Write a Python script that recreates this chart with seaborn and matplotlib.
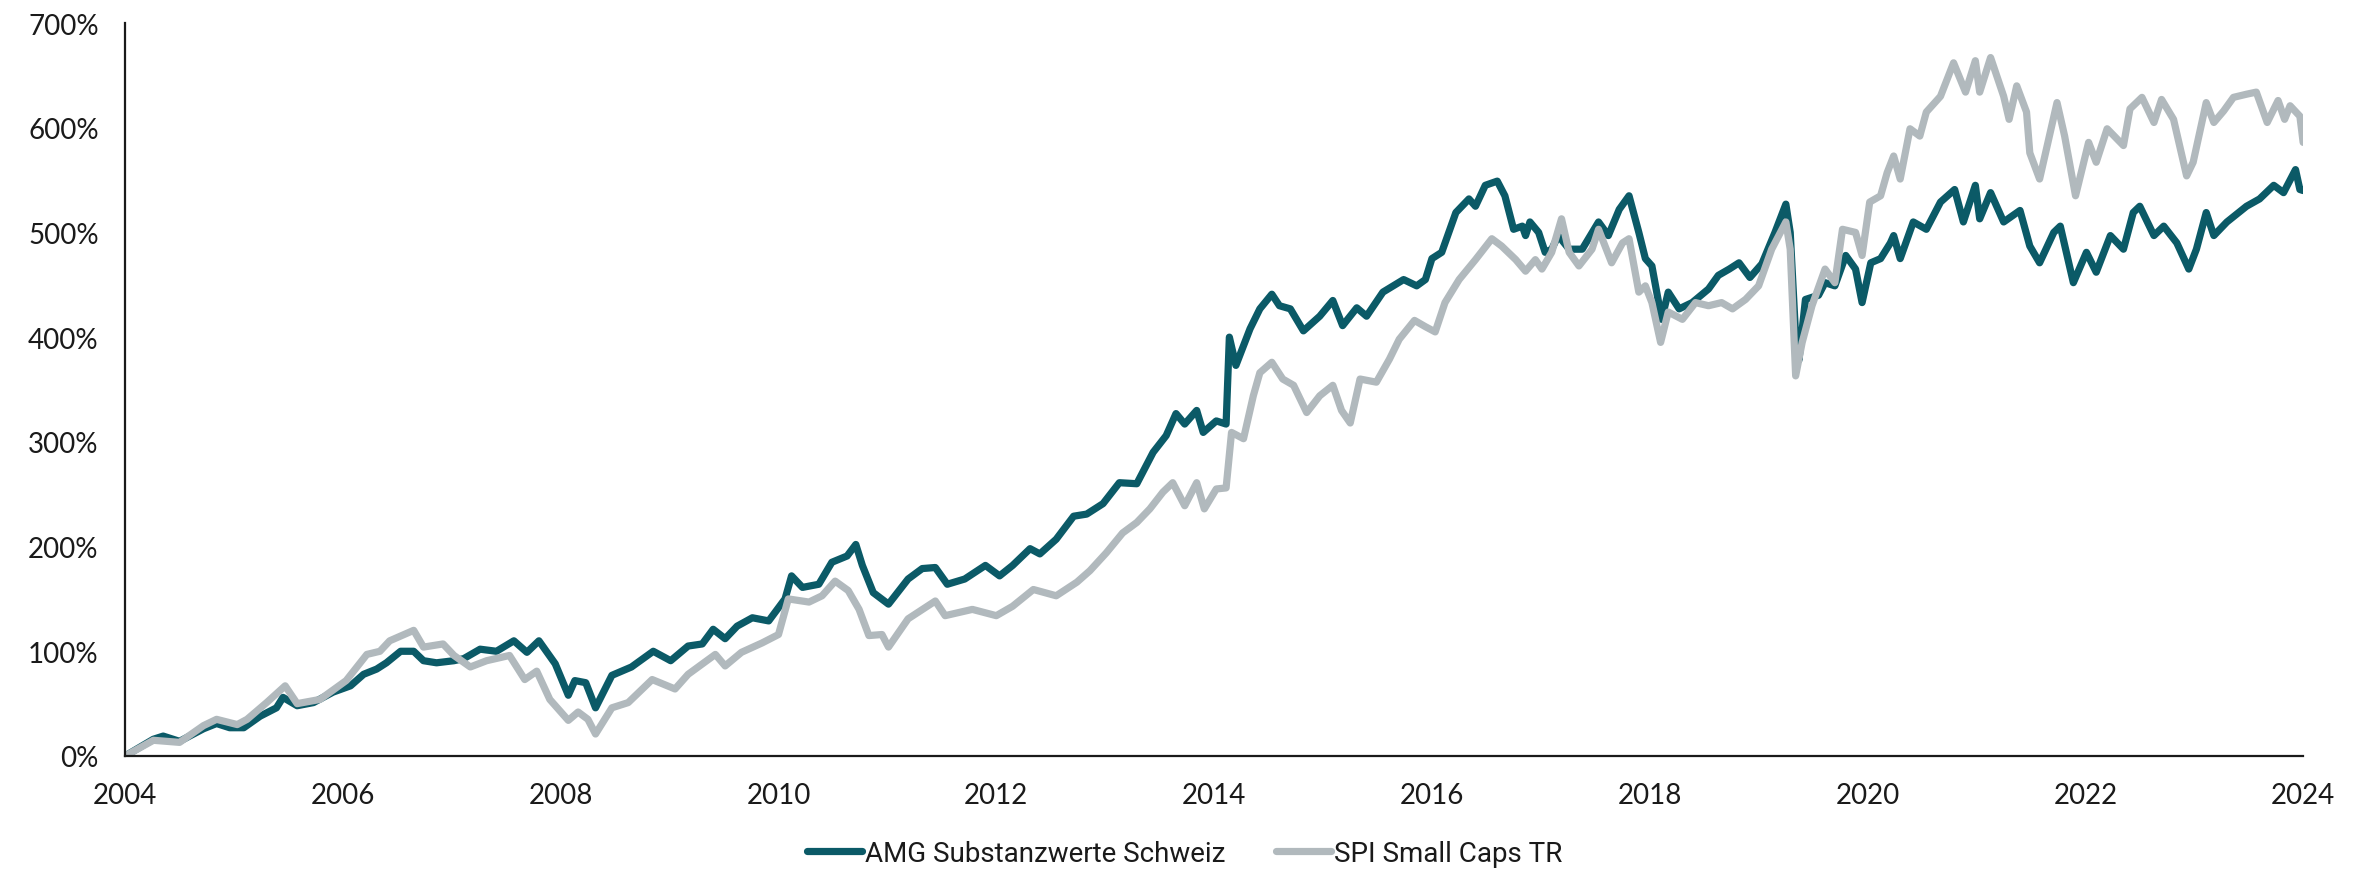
import pandas as pd
import numpy as np
import matplotlib
matplotlib.use("Agg")
import matplotlib.pyplot as plt
from matplotlib.ticker import FuncFormatter
import seaborn as sns

# ── Data (cumulative performance in %) ────────────────────────────────────────
AMG_LABEL = "AMG Substanzwerte Schweiz"
SPI_LABEL = "SPI Small Caps TR"

amg_years = [
    2004.00, 2004.26, 2004.35, 2004.50, 2004.72, 2004.84, 2004.96, 2005.09, 2005.24, 2005.39,
    2005.45, 2005.58, 2005.73, 2005.91, 2006.07, 2006.19, 2006.31, 2006.40, 2006.53, 2006.65,
    2006.74, 2006.86, 2007.02, 2007.11, 2007.26, 2007.41, 2007.57, 2007.69, 2007.80, 2007.95,
    2008.07, 2008.13, 2008.23, 2008.32, 2008.47, 2008.65, 2008.85, 2009.01, 2009.17, 2009.30,
    2009.40, 2009.51, 2009.62, 2009.76, 2009.91, 2010.06, 2010.12, 2010.22, 2010.37, 2010.49,
    2010.63, 2010.71, 2010.77, 2010.87, 2011.01, 2011.19, 2011.32, 2011.44, 2011.55, 2011.71,
    2011.90, 2012.03, 2012.15, 2012.31, 2012.40, 2012.55, 2012.71, 2012.83, 2012.98, 2013.13,
    2013.29, 2013.44, 2013.56, 2013.65, 2013.73, 2013.84, 2013.90, 2014.02, 2014.11, 2014.14,
    2014.20, 2014.33, 2014.42, 2014.53, 2014.60, 2014.70, 2014.82, 2014.97, 2015.09, 2015.18,
    2015.31, 2015.40, 2015.55, 2015.74, 2015.86, 2015.94, 2016.00, 2016.09, 2016.22, 2016.34,
    2016.40, 2016.49, 2016.60, 2016.67, 2016.75, 2016.83, 2016.86, 2016.90, 2016.98, 2017.04,
    2017.10, 2017.16, 2017.26, 2017.38, 2017.53, 2017.62, 2017.72, 2017.81, 2017.90, 2017.96,
    2018.02, 2018.11, 2018.17, 2018.27, 2018.39, 2018.54, 2018.63, 2018.73, 2018.82, 2018.92,
    2019.03, 2019.15, 2019.25, 2019.29, 2019.34, 2019.37, 2019.43, 2019.55, 2019.61, 2019.70,
    2019.80, 2019.89, 2019.95, 2020.03, 2020.12, 2020.21, 2020.24, 2020.30, 2020.42, 2020.54,
    2020.67, 2020.80, 2020.88, 2020.99, 2021.03, 2021.13, 2021.25, 2021.40, 2021.49, 2021.58,
    2021.71, 2021.77, 2021.89, 2022.01, 2022.10, 2022.23, 2022.35, 2022.44, 2022.50, 2022.63,
    2022.72, 2022.84, 2022.95, 2023.02, 2023.11, 2023.18, 2023.30, 2023.48, 2023.60, 2023.73,
    2023.82, 2023.93, 2023.97, 2024.00,
]
amg_values = [
    0, 16, 19, 14, 26, 31, 27, 27, 38, 46,
    56, 48, 51, 61, 67, 78, 83, 89, 100, 100,
    91, 89, 91, 93, 102, 100, 110, 99, 110, 88,
    58, 72, 70, 46, 77, 85, 100, 91, 105, 107,
    121, 112, 124, 132, 129, 150, 172, 161, 164, 185,
    191, 202, 182, 156, 145, 169, 179, 180, 164, 169,
    182, 172, 182, 198, 193, 207, 229, 231, 241, 261,
    260, 290, 306, 327, 317, 330, 309, 320, 317, 400,
    373, 408, 427, 441, 430, 427, 406, 420, 435, 411,
    428, 420, 443, 455, 449, 455, 475, 481, 519, 532,
    525, 545, 549, 535, 503, 506, 497, 510, 500, 481,
    484, 497, 484, 484, 510, 497, 522, 535, 500, 475,
    468, 417, 443, 427, 433, 446, 459, 465, 471, 457,
    470, 500, 527, 500, 401, 378, 436, 440, 452, 449,
    478, 465, 433, 471, 475, 490, 497, 475, 510, 503,
    529, 541, 510, 545, 513, 538, 510, 521, 487, 471,
    500, 506, 452, 481, 462, 497, 484, 519, 525, 497,
    506, 490, 465, 484, 519, 497, 510, 525, 532, 545,
    538, 560, 541, 540,
]

spi_years = [
    2004.00, 2004.26, 2004.50, 2004.72, 2004.84, 2005.03, 2005.12, 2005.30, 2005.47, 2005.58,
    2005.79, 2006.03, 2006.22, 2006.34, 2006.43, 2006.65, 2006.74, 2006.92, 2007.02, 2007.17,
    2007.32, 2007.53, 2007.67, 2007.78, 2007.90, 2008.07, 2008.16, 2008.25, 2008.32, 2008.47,
    2008.62, 2008.84, 2009.05, 2009.17, 2009.42, 2009.51, 2009.66, 2009.85, 2010.00, 2010.09,
    2010.28, 2010.40, 2010.52, 2010.64, 2010.74, 2010.83, 2010.95, 2011.01, 2011.19, 2011.44,
    2011.53, 2011.78, 2012.00, 2012.15, 2012.34, 2012.55, 2012.74, 2012.86, 2013.01, 2013.16,
    2013.29, 2013.41, 2013.53, 2013.62, 2013.73, 2013.84, 2013.91, 2014.02, 2014.11, 2014.16,
    2014.27, 2014.36, 2014.42, 2014.53, 2014.63, 2014.73, 2014.85, 2014.97, 2015.09, 2015.17,
    2015.25, 2015.34, 2015.49, 2015.61, 2015.70, 2015.84, 2015.94, 2016.03, 2016.12, 2016.25,
    2016.40, 2016.55, 2016.64, 2016.77, 2016.86, 2016.95, 2017.01, 2017.10, 2017.19, 2017.26,
    2017.35, 2017.47, 2017.53, 2017.65, 2017.75, 2017.81, 2017.90, 2017.96, 2018.02, 2018.10,
    2018.17, 2018.30, 2018.42, 2018.54, 2018.66, 2018.76, 2018.88, 2019.00, 2019.12, 2019.25,
    2019.29, 2019.34, 2019.40, 2019.49, 2019.61, 2019.70, 2019.77, 2019.89, 2019.95, 2020.02,
    2020.12, 2020.18, 2020.24, 2020.30, 2020.39, 2020.48, 2020.54, 2020.67, 2020.79, 2020.90,
    2020.99, 2021.03, 2021.13, 2021.25, 2021.30, 2021.37, 2021.46, 2021.49, 2021.58, 2021.74,
    2021.81, 2021.91, 2022.03, 2022.10, 2022.20, 2022.35, 2022.41, 2022.52, 2022.63, 2022.70,
    2022.81, 2022.93, 2022.99, 2023.11, 2023.18, 2023.27, 2023.36, 2023.48, 2023.57, 2023.67,
    2023.77, 2023.83, 2023.88, 2023.97, 2024.00,
]
spi_values = [
    0, 15, 13, 29, 35, 30, 35, 51, 67, 50,
    54, 72, 97, 100, 110, 120, 104, 107, 96, 85,
    91, 96, 73, 81, 54, 34, 42, 35, 21, 46,
    51, 73, 64, 78, 97, 86, 99, 108, 116, 150,
    147, 153, 167, 158, 140, 115, 116, 104, 131, 148,
    134, 140, 134, 143, 159, 153, 166, 177, 194, 213,
    223, 236, 252, 261, 239, 261, 236, 255, 256, 309,
    303, 344, 366, 376, 360, 354, 328, 344, 354, 330,
    318, 360, 357, 379, 398, 416, 410, 405, 433, 455,
    474, 494, 487, 474, 463, 474, 465, 481, 513, 481,
    468, 484, 503, 471, 490, 494, 443, 449, 433, 395,
    424, 417, 433, 430, 433, 427, 436, 449, 484, 510,
    484, 363, 395, 430, 465, 452, 503, 500, 478, 529,
    535, 557, 573, 551, 599, 592, 615, 630, 662, 634,
    664, 634, 667, 630, 608, 640, 615, 576, 551, 624,
    592, 535, 586, 567, 599, 583, 618, 629, 605, 627,
    608, 554, 567, 624, 605, 616, 629, 632, 634, 605,
    626, 608, 621, 611, 586,
]

x_ticks = list(range(2004, 2025, 2))
y_ticks = list(range(0, 701, 100))

# ── Style ─────────────────────────────────────────────────────────────────────
TEAL, GREY, INK = "#0b5a67", "#b1b9bd", "#1a1a1a"
LW = 5.2

sns.set_style("white")
plt.rcParams.update({
    "font.family": ["Lato", "DejaVu Sans"],
    "axes.edgecolor": INK, "axes.linewidth": 1.6,
    "xtick.color": INK, "ytick.color": INK,
    "text.color": INK,
})

df = pd.concat([
    pd.DataFrame({"year": amg_years, "value": amg_values, "series": AMG_LABEL}),
    pd.DataFrame({"year": spi_years, "value": spi_values, "series": SPI_LABEL}),
], ignore_index=True)

fig = plt.figure(figsize=(23.69, 8.70), dpi=100, facecolor="white")
ax = fig.add_axes([0.0528, 0.1299, 0.9194, 0.8425])

sns.lineplot(data=df, x="year", y="value", hue="series",
             hue_order=[AMG_LABEL, SPI_LABEL], palette=[TEAL, GREY],
             estimator=None, sort=True, linewidth=LW, ax=ax, legend=False)

ax.set_xlim(2004, 2024)
ax.set_ylim(0, 700)
ax.set_xticks(x_ticks)
ax.set_yticks(y_ticks)
ax.yaxis.set_major_formatter(FuncFormatter(lambda v, _: f"{int(v)}%"))
ax.xaxis.set_major_formatter(FuncFormatter(lambda v, _: f"{int(v)}"))
ax.set_xlabel("")
ax.set_ylabel("")
sns.despine(ax=ax)
ax.tick_params(axis="both", direction="out", length=6, width=1.6,
               labelsize=20, pad=13)

handles = [plt.Line2D([], [], color=TEAL, linewidth=LW),
           plt.Line2D([], [], color=GREY, linewidth=LW)]
fig.legend(handles, [AMG_LABEL, SPI_LABEL], loc="center",
           bbox_to_anchor=(0.5, 0.018), ncol=2, frameon=False,
           prop={"family": "Roboto", "size": 20},
           handlelength=2.0, handletextpad=0.1, columnspacing=1.8)

plt.savefig("out.png", dpi=100, facecolor="white")
plt.close()
